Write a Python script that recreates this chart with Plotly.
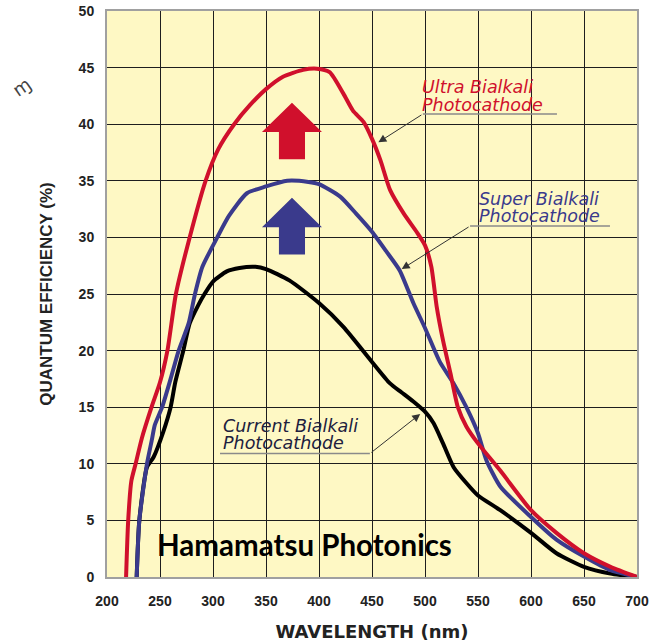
import plotly.graph_objects as go

# Quantum efficiency curves of three bialkali photocathodes (wavelength in nm, QE in %)
ultra_nm = [218, 220, 223, 227, 233, 242, 250, 257, 265, 278, 293, 305, 320, 335, 350, 366,
            385, 398, 410, 423, 432, 442, 450, 458, 467, 480, 492, 500, 506, 511, 517, 524,
            531, 539, 550, 571, 600, 624, 650, 675, 700]
ultra_qe = [0, 5, 8.5, 10, 12.3, 15, 17.2, 20, 25, 30, 35, 37.8, 40.0, 41.7, 43.1, 44.2,
            44.8, 44.9, 44.6, 42.7, 41.2, 40.2, 38.7, 36.8, 34.2, 32.1, 30.5, 29.3, 27.4, 23.9, 20.9, 18.0,
            15.0, 13.3, 11.8, 9.4, 5.9, 3.9, 2.1, 0.9, 0]

super_nm = [228, 230.5, 237.7, 242.5, 245, 252, 260, 267.6, 277, 283, 290, 304, 315, 332,
            350, 370, 390, 400, 420, 435, 450, 464, 476, 489, 500, 514, 527, 539, 550, 558,
            571, 600, 624, 650, 675, 700]
super_qe = [0, 5, 10, 12.2, 13.4, 15, 17.5, 20, 22.4, 25, 27.4, 30, 31.9, 33.9,
            34.5, 35.0, 34.9, 34.7, 33.6, 32.1, 30.5, 28.7, 27.1, 24.2, 22.0, 19.0, 17.1, 15.0, 12.7, 10.3,
            8.0, 5.3, 3.3, 1.8, 0.6, 0]

current_nm = [228, 230.5, 237.7, 244, 253, 260, 264.4, 272, 278, 286, 292, 300, 313, 325,
              340, 350, 372, 400, 423, 450, 467, 478, 489, 500, 508, 517, 527, 539, 550,
              571, 600, 624, 650, 675, 700]
current_qe = [0, 5, 9.7, 10.6, 12.8, 15, 17.2, 20, 22.4, 24.0, 25, 26.1, 27.0, 27.3,
              27.4, 27.2, 26.2, 24.2, 22.1, 19.0, 17.1, 16.3, 15.5, 14.6, 13.6, 11.8, 9.7, 8.3, 7.2,
              5.9, 3.9, 2.1, 0.9, 0.3, 0]

x_ticks = [200, 250, 300, 350, 400, 450, 500, 550, 600, 650, 700]
y_ticks = [0, 5, 10, 15, 20, 25, 30, 35, 40, 45, 50]

RED = "#D0102C"
BLUE = "#3A3A8C"
BLACK = "#000000"

fig = go.Figure()
for xs, ys, col in [(current_nm, current_qe, BLACK),
                    (super_nm, super_qe, BLUE),
                    (ultra_nm, ultra_qe, RED)]:
    fig.add_trace(go.Scatter(x=xs, y=ys, mode="lines",
                             line=dict(color=col, width=4, shape="spline", smoothing=0.6),
                             hoverinfo="skip", showlegend=False))

# Block "improvement" arrows: (centre nm, half head width, half shaft width, tip, head base, tail)
def block_arrow(cx, hw, sw, tip, base, tail):
    pts = [(cx, tip), (cx + hw, base), (cx + sw, base), (cx + sw, tail),
           (cx - sw, tail), (cx - sw, base), (cx - hw, base)]
    return "M " + " L ".join(f"{px},{py}" for px, py in pts) + " Z"

for col, tip, base, tail in [(RED, 41.9, 39.3, 36.9), (BLUE, 33.5, 30.9, 28.5)]:
    fig.add_shape(type="path", path=block_arrow(374.5, 28.3, 12.3, tip, base, tail),
                  xref="x", yref="y", fillcolor=col, line=dict(width=0), layer="above")

label_font = "DejaVu Sans"
labels = [
    # (line texts, colour, left nm, line y values, underline (x0, x1, y), leader tail, tip)
    (["Ultra Bialkali", "Photocathode"], RED, 495.5, [43.3, 41.7], (498, 624.5, 40.9), (498, 40.9), (456, 38.4)),
    (["Super Bialkali", "Photocathode"], BLUE, 549.5, [33.4, 31.9], (542.5, 674.5, 31.0), (542.5, 31.0), (478, 27.2)),
    (["Current Bialkali", "Photocathode"], "#20203E", 308.0, [13.3, 11.8], (306.6, 448, 10.9), (448, 10.9), (495.5, 14.4)),
]
for lines, col, x0, ys, ul, tail, tip in labels:
    for txt, yy in zip(lines, ys):
        fig.add_annotation(x=x0, y=yy, text=txt, showarrow=False, xanchor="left", yanchor="middle",
                           font=dict(family=label_font, size=17.5, color=col, style="italic"))
    fig.add_shape(type="line", x0=ul[0], x1=ul[1], y0=ul[2], y1=ul[2], xref="x", yref="y",
                  line=dict(color="#8a8a8a", width=1.5))
    fig.add_annotation(x=tip[0], y=tip[1], ax=tail[0], ay=tail[1], axref="x", ayref="y",
                       xref="x", yref="y", text="", showarrow=True, arrowhead=2, arrowsize=1.6,
                       arrowwidth=1, arrowcolor="#333333", standoff=0)

fig.add_annotation(x=386, y=2.9, text="<b>Hamamatsu Photonics</b>", showarrow=False,
                   xanchor="center", yanchor="middle",
                   font=dict(family="Lato", size=29.5, color="#000000"))

fig.add_annotation(x=-0.19, y=0.895, xref="paper", yref="paper", text="ɱ", showarrow=False,
                   textangle=-35, font=dict(family="DejaVu Sans", size=18, color="#444444"))

tick_font = dict(family="Liberation Sans", size=14, color="#222222", weight="bold")
fig.update_xaxes(range=[200, 700], tickvals=x_ticks, ticktext=[str(v) for v in x_ticks],
                 showgrid=True, gridcolor="#1e1e1e", gridwidth=1.3, zeroline=False,
                 showline=True, mirror=True, linecolor="#a0a0a0", linewidth=2,
                 tickfont=tick_font, ticks="", ticklabelstandoff=10,
                 title=dict(text="<b>WAVELENGTH (nm)</b>", standoff=18,
                            font=dict(family="DejaVu Sans", size=18, color="#222222")))
fig.update_yaxes(range=[0, 50], tickvals=y_ticks, ticktext=[str(v) for v in y_ticks],
                 showgrid=True, gridcolor="#1e1e1e", gridwidth=1.3, zeroline=False,
                 showline=True, mirror=True, linecolor="#a0a0a0", linewidth=2,
                 tickfont=tick_font, ticks="", ticklabelstandoff=8,
                 title=dict(text="<b>QUANTUM EFFICIENCY (%)</b>", standoff=22,
                            font=dict(family="Liberation Sans", size=17, color="#222222")))

fig.update_layout(width=655, height=642, margin=dict(l=107, r=18, t=11, b=65, autoexpand=False),
                  paper_bgcolor="#ffffff", plot_bgcolor="#FEF8C4", showlegend=False)

fig.write_html("out.html")
